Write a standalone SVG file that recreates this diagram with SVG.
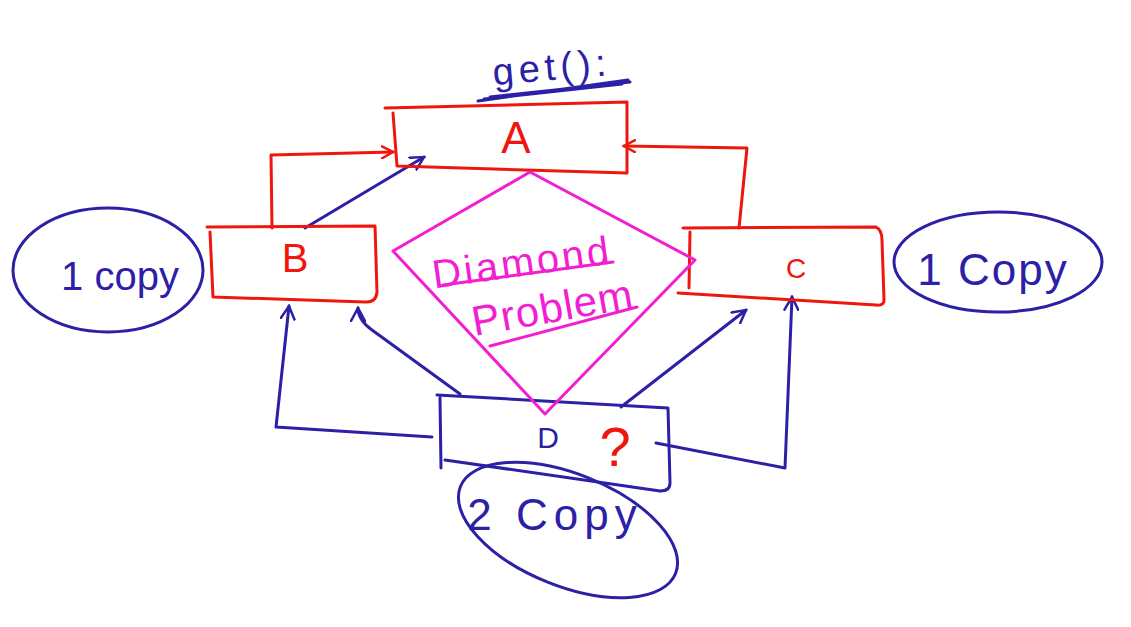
<svg xmlns="http://www.w3.org/2000/svg" width="1131" height="627" viewBox="0 0 1131 627">
<defs>
<style>
.red{fill:none;stroke:#f0160e;stroke-width:3;stroke-linecap:round;stroke-linejoin:round}
.blue{fill:none;stroke:#2b20a6;stroke-width:3;stroke-linecap:round;stroke-linejoin:round}
.mag{fill:none;stroke:#f21fd2;stroke-width:3;stroke-linecap:round;stroke-linejoin:round}
.tr{fill:#f0160e;font-family:"Liberation Sans",Arial,sans-serif}
.tb{fill:#2b20a6;font-family:"Liberation Sans",Arial,sans-serif}
.tm{fill:#f21fd2;font-family:"Liberation Sans",Arial,sans-serif}
</style>
<marker id="ar" viewBox="0 0 14 14" refX="12" refY="7" markerWidth="14" markerHeight="14" markerUnits="userSpaceOnUse" orient="auto">
<path d="M1,1 L12,7 L1,13" fill="none" stroke="#f0160e" stroke-width="2.5" stroke-linecap="round"/>
</marker>
<marker id="ab" viewBox="0 0 16 16" refX="14" refY="8" markerWidth="16" markerHeight="16" markerUnits="userSpaceOnUse" orient="auto">
<path d="M1,1 L14,8 L1,15" fill="none" stroke="#2b20a6" stroke-width="2.5" stroke-linecap="round"/>
</marker>
</defs>
<rect width="1131" height="627" fill="#ffffff"/>

<g id="connectors">
<polyline class="red" points="272,228 271,155 393,152" marker-end="url(#ar)"/>
<polyline class="red" points="739,228 747,148 624,146" marker-end="url(#ar)"/>
<line class="blue" x1="305" y1="228" x2="424" y2="157" marker-end="url(#ab)"/>
<polyline class="blue" points="432,437 276,427 289,306" marker-end="url(#ab)"/>
<path class="blue" d="M460,394 L372,330 Q358,320 358,308" marker-end="url(#ab)"/>
<line class="blue" x1="621" y1="407" x2="746" y2="310" marker-end="url(#ab)"/>
<polyline class="blue" points="656,443 785,468 792,297" marker-end="url(#ab)"/>
</g>

<g id="getLabel">
<text class="tb" x="552" y="80" font-size="38" letter-spacing="5" text-anchor="middle" transform="rotate(-5 552 70)">get():</text>
<path class="blue" d="M478,101 L628,80 M490,97 L630,82 M484,99 L622,84" stroke-width="4"/>
</g>

<g id="nodeA">
<path class="red" d="M385,108 L627,102 L627,173 L397,166 L393,113"/>
<text class="tr" x="516" y="153" font-size="44" text-anchor="middle">A</text>
</g>

<g id="nodeB">
<path class="red" d="M207,227 L375,226 L377,292 Q376,303 365,302 L213,297 L210,232"/>
<text class="tr" x="295" y="272" font-size="40" text-anchor="middle">B</text>
</g>

<g id="nodeC">
<path class="red" d="M683,228 L876,227 Q882,230 882,240 L884,300 Q884,306 876,305 L678,293 M690,232 L689,288"/>
<text class="tr" x="796" y="278" font-size="28" text-anchor="middle">C</text>
</g>

<g id="nodeD">
<path class="blue" d="M437,395 L668,408 L670,483 Q670,491 660,491 L445,460 M440,398 L441,468"/>
<text class="tb" x="548" y="448" font-size="30" text-anchor="middle">D</text>
<text class="tr" x="615" y="466" font-size="56" text-anchor="middle">?</text>
</g>

<g id="diamond">
<path class="mag" d="M530,172 L695,260 L545,414 L393,251 Z"/>
<text class="tm" x="522" y="276" font-size="40" letter-spacing="3" text-anchor="middle" transform="rotate(-8 522 262)">Diamond</text>
<line class="mag" x1="443" y1="285" x2="613" y2="262"/>
<text class="tm" x="553" y="322" font-size="42" letter-spacing="1" text-anchor="middle" transform="rotate(-10 553 310)">Problem</text>
<line class="mag" x1="490" y1="346" x2="637" y2="307"/>
</g>

<g id="copyB">
<ellipse class="blue" cx="108" cy="270" rx="95" ry="62"/>
<text class="tb" x="120" y="290" font-size="40" text-anchor="middle">1 copy</text>
</g>

<g id="copyC">
<ellipse class="blue" cx="998" cy="262" rx="104" ry="50"/>
<text class="tb" x="993" y="285" font-size="44" letter-spacing="2" text-anchor="middle">1 Copy</text>
</g>

<g id="copyD">
<ellipse class="blue" cx="568" cy="530" rx="116" ry="56" transform="rotate(22 568 530)"/>
<text class="tb" x="555" y="530" font-size="44" letter-spacing="6" text-anchor="middle">2 Copy</text>
</g>
</svg>
